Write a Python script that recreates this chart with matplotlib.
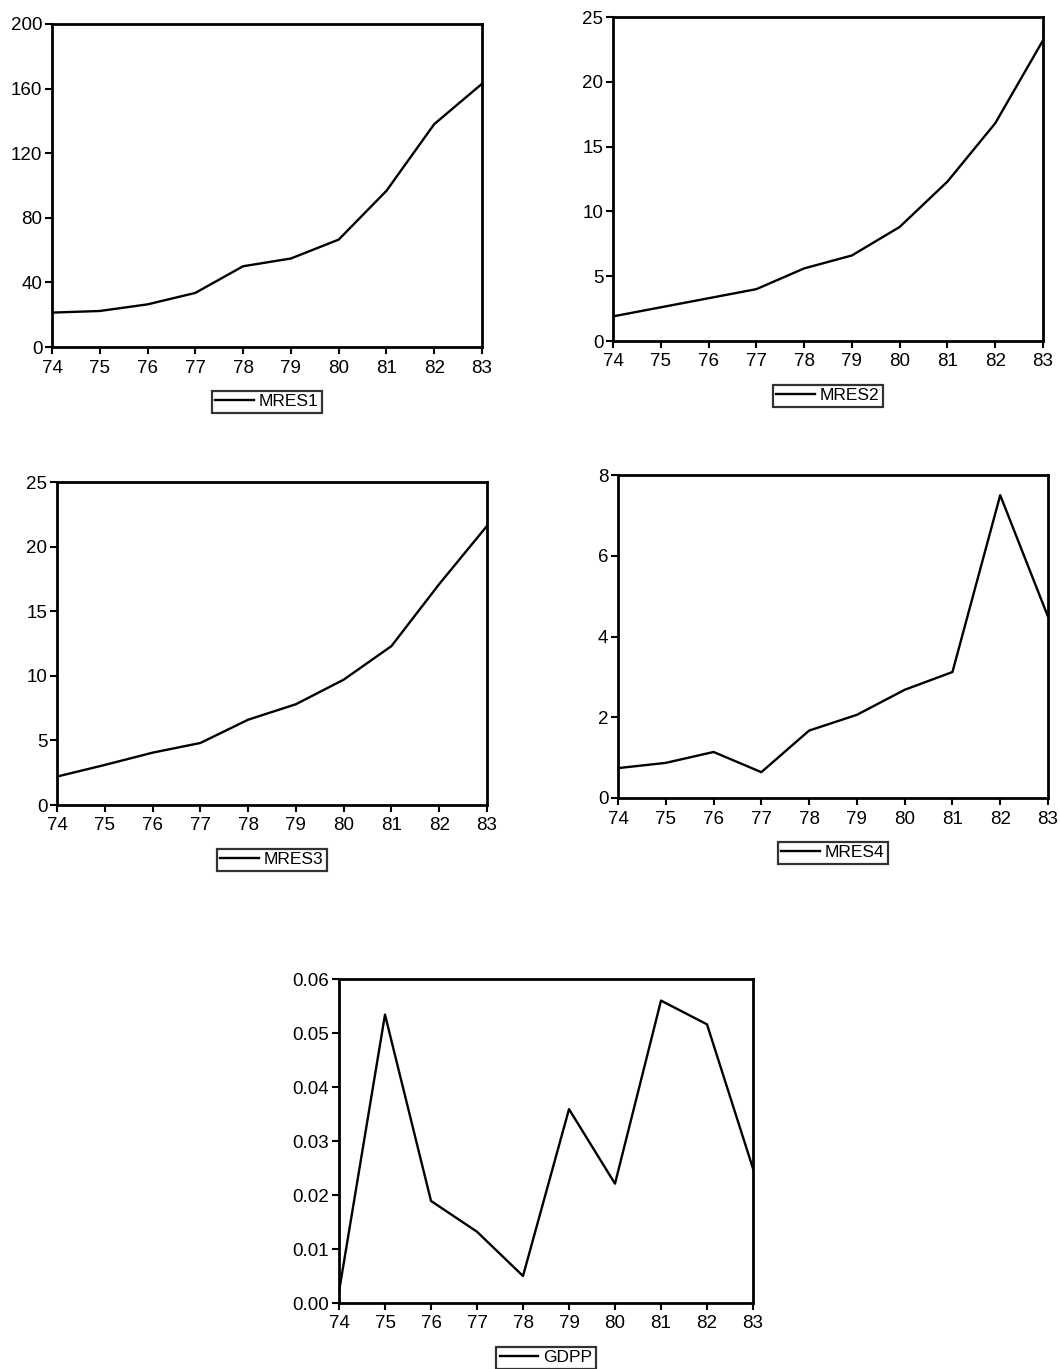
#!/usr/bin/env python3
"""
Cinco series 74-83 (MRES1..MRES4, GDPP), estilo EViews escaneado.
"""
import matplotlib
matplotlib.use("Agg")
import matplotlib.pyplot as plt
from matplotlib.ticker import FormatStrFormatter, MultipleLocator

plt.rcParams["font.family"] = ["Liberation Sans", "DejaVu Sans"]

YEARS = [74, 75, 76, 77, 78, 79, 80, 81, 82, 83]

MRES1 = [21.3, 22.3, 26.4, 33.5, 50.0, 54.8, 66.5, 96.7, 138.0, 163.0]
MRES2 = [1.9, 2.6, 3.3, 4.0, 5.6, 6.6, 8.8, 12.3, 16.8, 23.2]
MRES3 = [2.2, 3.1, 4.05, 4.8, 6.6, 7.8, 9.7, 12.3, 17.1, 21.6]
MRES4 = [0.74, 0.87, 1.14, 0.64, 1.67, 2.06, 2.68, 3.12, 7.5, 4.49]
GDPP = [0.0021, 0.0534, 0.0189, 0.0132, 0.0050, 0.0359, 0.0221, 0.0560, 0.0516, 0.0249]

# (nombre, valores, ymax, paso, formato)
PANELS = [
    ("MRES1", MRES1, 200, 40, None),
    ("MRES2", MRES2, 25, 5, None),
    ("MRES3", MRES3, 25, 5, None),
    ("MRES4", MRES4, 8, 2, None),
    ("GDPP", GDPP, 0.06, 0.01, "%.2f"),
]

W, H = 1060, 1369
# cajas en pixeles: izquierda, arriba, derecha, abajo
BOXES = [
    (52, 24, 482, 347),
    (613, 17, 1043, 341),
    (57, 482, 487, 805),
    (618, 475, 1048, 798),
    (339, 979, 753, 1303),
]


def px_axes(fig, box):
    l, t, r, b = box
    return fig.add_axes([l / W, 1 - b / H, (r - l) / W, (b - t) / H])


def draw_panel(ax, name, values, ymax, step, fmt):
    ax.plot(YEARS, values, color="black", lw=1.7, label=name)
    ax.set_xlim(YEARS[0], YEARS[-1])
    ax.set_ylim(0, ymax)
    ax.set_xticks(YEARS)
    ax.yaxis.set_major_locator(MultipleLocator(step))
    if fmt:
        ax.yaxis.set_major_formatter(FormatStrFormatter(fmt))
    for sp in ax.spines.values():
        sp.set_linewidth(2.0)
    ax.tick_params(direction="out", length=5, width=1.5, labelsize=13.5, pad=2,
                   top=False, right=False)
    ax.tick_params(axis="x", pad=4)
    leg = ax.legend(loc="upper center", bbox_to_anchor=(0.5, -0.135),
                    frameon=True, fancybox=False, fontsize=12.5,
                    handlelength=2.2, handletextpad=0.3, borderpad=0.2,
                    borderaxespad=0)
    leg.get_frame().set_edgecolor("black")
    leg.get_frame().set_linewidth(1.6)


def main():
    fig = plt.figure(figsize=(W / 100, H / 100), dpi=100)
    for box, (name, values, ymax, step, fmt) in zip(BOXES, PANELS):
        ax = px_axes(fig, box)
        draw_panel(ax, name, values, ymax, step, fmt)
    fig.savefig("out.png", dpi=100)
    plt.close(fig)


if __name__ == "__main__":
    main()
